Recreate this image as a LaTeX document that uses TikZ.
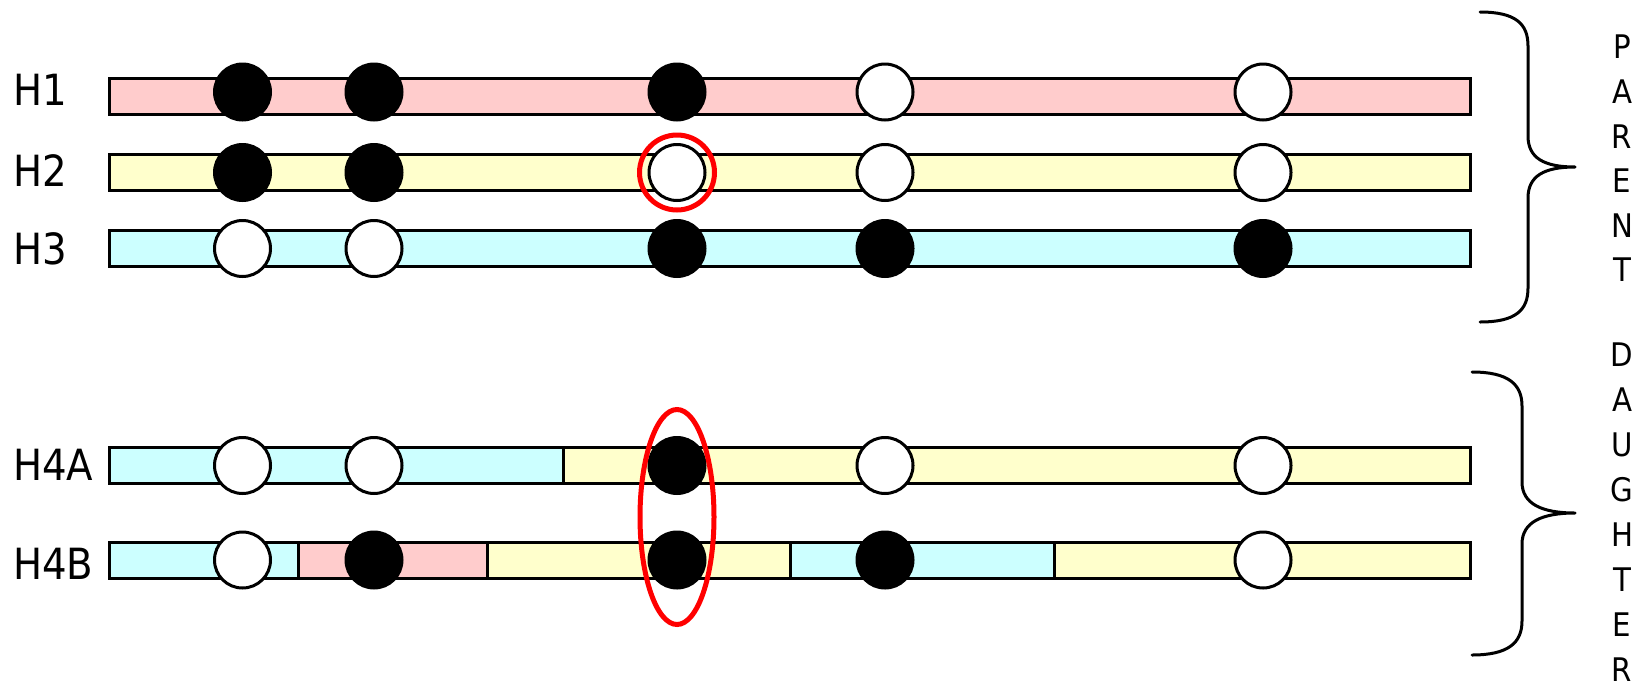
\documentclass[tikz,border=0pt]{standalone}
\usepackage{fontspec}
\setmainfont{DejaVu Sans}[FakeStretch=0.9]
\usetikzlibrary{shapes.geometric}

\definecolor{hpink}{HTML}{FFCCCC}
\definecolor{hyellow}{HTML}{FFFFCC}
\definecolor{hcyan}{HTML}{CCFFFF}
\definecolor{hred}{HTML}{FF0000}

\tikzset{
  seg/.style={draw=black, line width=3pt},
  snpon/.style={circle, draw=black, fill=black, line width=3pt, minimum size=56pt, inner sep=0pt},
  snpoff/.style={circle, draw=black, fill=white, line width=3pt, minimum size=56pt, inner sep=0pt},
  hlabel/.style={anchor=west, inner sep=0pt, font=\fontsize{43}{43}\selectfont},
  sidelabel/.style={inner sep=0pt, font=\fontsize{32.5}{32.5}\selectfont},
  bracestroke/.style={draw=black, line width=3pt, line cap=round, line join=round},
  redring/.style={draw=hred, line width=5pt, inner sep=0pt}
}

\begin{document}
\begin{tikzpicture}[x=1pt, y=-1pt]
  \useasboundingbox (0,0) rectangle (1641,686);

  % haplotype labels
  \node[hlabel] (lh1)  at (13,90)    {H1};
  \node[hlabel] (lh2)  at (13,171)   {H2};
  \node[hlabel] (lh3)  at (13,249)   {H3};
  \node[hlabel] (lh4a) at (13,465)   {H4A};
  \node[hlabel] (lh4b) at (13,563.5) {H4B};

  % parental haplotype bars
  \draw[seg, fill=hpink]   (109.5,78)    rectangle (1470,114);
  \draw[seg, fill=hyellow] (109.5,154.5) rectangle (1470,190.5);
  \draw[seg, fill=hcyan]   (109.5,230.5) rectangle (1470,266.5);

  % daughter haplotype bars (recombinant segments)
  \draw[seg, fill=hcyan]   (109.5,447.5) rectangle (563,483.5);
  \draw[seg, fill=hyellow] (563,447.5)   rectangle (1470,483.5);

  \draw[seg, fill=hcyan]   (109.5,542) rectangle (298.5,578);
  \draw[seg, fill=hpink]   (298.5,542) rectangle (487.5,578);
  \draw[seg, fill=hyellow] (487.5,542) rectangle (790,578);
  \draw[seg, fill=hcyan]   (790,542)   rectangle (1054,578);
  \draw[seg, fill=hyellow] (1054,542)  rectangle (1470,578);

  % markers, H1
  \node[snpon]  (h1a) at (242.5,92) {};
  \node[snpon]  (h1b) at (374,92)   {};
  \node[snpon]  (h1c) at (677,92)   {};
  \node[snpoff] (h1d) at (885,92)   {};
  \node[snpoff] (h1e) at (1263,92)  {};
  % markers, H2
  \node[snpon]  (h2a) at (242.5,172.5) {};
  \node[snpon]  (h2b) at (374,172.5)   {};
  \node[snpoff] (h2c) at (677,172.5)   {};
  \node[snpoff] (h2d) at (885,172.5)   {};
  \node[snpoff] (h2e) at (1263,172.5)  {};
  % markers, H3
  \node[snpoff] (h3a) at (242.5,248.5) {};
  \node[snpoff] (h3b) at (374,248.5)   {};
  \node[snpon]  (h3c) at (677,248.5)   {};
  \node[snpon]  (h3d) at (885,248.5)   {};
  \node[snpon]  (h3e) at (1263,248.5)  {};
  % markers, H4A
  \node[snpoff] (h4aa) at (242.5,465.5) {};
  \node[snpoff] (h4ab) at (374,465.5)   {};
  \node[snpon]  (h4ac) at (677,465.5)   {};
  \node[snpoff] (h4ad) at (885,465.5)   {};
  \node[snpoff] (h4ae) at (1263,465.5)  {};
  % markers, H4B
  \node[snpoff] (h4ba) at (242.5,560) {};
  \node[snpon]  (h4bb) at (374,560)   {};
  \node[snpon]  (h4bc) at (677,560)   {};
  \node[snpon]  (h4bd) at (885,560)   {};
  \node[snpoff] (h4be) at (1263,560)  {};

  % highlighted markers
  \node[redring, circle, minimum size=75pt] (ring) at (h2c) {};
  \node[redring, ellipse, minimum width=74pt, minimum height=215pt] (oval) at (677,517) {};

  % brace over the parents
  \path[bracestroke]
    (1480,12) .. controls (1516,12) and (1528,24) .. (1528,46)
    -- (1528,136) .. controls (1528,158) and (1544,167) .. (1575,167)
    .. controls (1544,167) and (1528,176) .. (1528,198)
    -- (1528,288) .. controls (1528,310) and (1516,322) .. (1480,322);

  % brace over the daughters
  \path[bracestroke]
    (1472,372) .. controls (1508,372) and (1522,384) .. (1522,406)
    -- (1522,482) .. controls (1522,504) and (1542,513) .. (1575,513)
    .. controls (1542,513) and (1522,522) .. (1522,544)
    -- (1522,621) .. controls (1522,643) and (1508,655) .. (1472,655);

  % vertical captions
  \foreach \ch [count=\i from 0] in {P,A,R,E,N,T}
    \node[sidelabel] (par\i) at (1622,47+44.6*\i) {\ch};
  \foreach \ch [count=\i from 0] in {D,A,U,G,H,T,E,R}
    \node[sidelabel] (dau\i) at (1622,355+45*\i) {\ch};
\end{tikzpicture}
\end{document}
